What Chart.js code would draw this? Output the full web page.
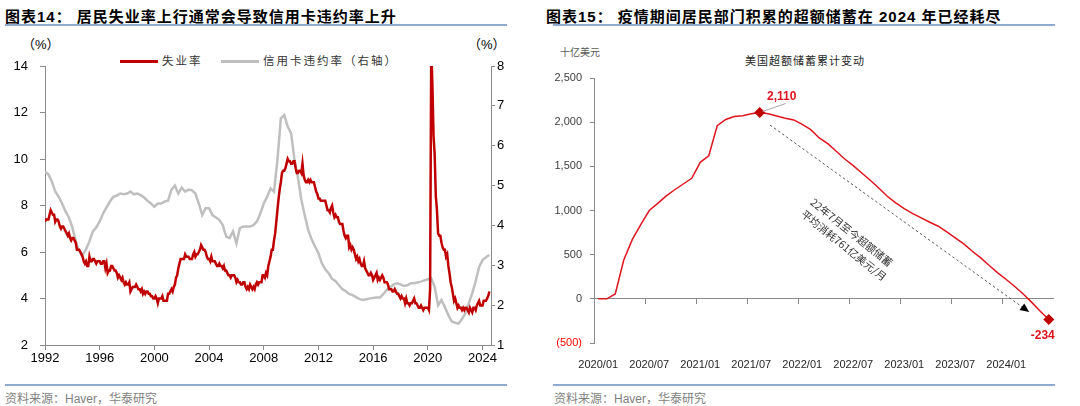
<!DOCTYPE html>
<html lang="zh">
<head>
<meta charset="UTF-8">
<title>失业率与超额储蓄</title>
<script src="https://cdn.jsdelivr.net/npm/chart.js"></script>
<style>
  body { margin: 0; width: 1080px; height: 406px; background: #fff; position: relative; overflow: hidden;
         font-family: "Liberation Sans", "Noto Sans CJK SC", sans-serif; color: #000; }
  .title { position: absolute; top: 5px; font-size: 15px; font-weight: bold; letter-spacing: 1px; white-space: nowrap; }
  .rule { position: absolute; height: 2px; background: #8FAAD0; }
  .src { position: absolute; top: 389px; font-size: 12px; color: #7f7f7f; white-space: nowrap; }
  .note { position: absolute; white-space: nowrap; }
  .box { position: absolute; top: 30px; width: 540px; height: 340px; }
  .legend { position: absolute; top: 52px; font-size: 11.5px; letter-spacing: 2px; color: #333; white-space: nowrap;
            font-family: "Noto Sans CJK SC", sans-serif; }
  .legend span.ln { display: inline-block; width: 38px; height: 3px; vertical-align: middle; margin-right: 4px; }
</style>
</head>
<body>
  <div class="title" style="left:5px">图表14： 居民失业率上行通常会导致信用卡违约率上升</div>
  <div class="rule" style="left:5px; width:502px; top:24px"></div>
  <div class="title" style="left:546px">图表15： 疫情期间居民部门积累的超额储蓄在 2024 年已经耗尽</div>
  <div class="rule" style="left:553px; width:502px; top:24px"></div>

  <div class="note" style="left:22px; top:34px; font-size:13px">（%）</div>
  <div class="note" style="left:468px; top:34px; font-size:13px">（%）</div>
  <div class="legend" style="left:120px">
    <span class="ln" style="background:#C00000"></span>失业率
    <span class="ln" style="background:#BFBFBF; margin-left:14px"></span>信用卡违约率（右轴）
  </div>

  <div class="note" style="left:560px; top:44px; font-size:10px; color:#595959; font-family:'Noto Sans CJK SC'">十亿美元</div>
  <div class="note" style="left:745px; top:52px; font-size:11px; color:#262626; letter-spacing:1px; font-family:'Noto Sans CJK SC'">美国超额储蓄累计变动</div>

  <div class="box" style="left:0"><canvas id="unempChart"></canvas></div>
  <div class="box" style="left:540px"><canvas id="savingsChart"></canvas></div>

  <div class="rule" style="left:5px; width:502px; top:384px; height:1.5px"></div>
  <div class="rule" style="left:553px; width:502px; top:384px; height:1.5px"></div>
  <div class="src" style="left:5px">资料来源：Haver，华泰研究</div>
  <div class="src" style="left:554px">资料来源：Haver，华泰研究</div>

<script>
// 失业率，月度，1992/01 起 (%)
const unempStart = 1992;
const unempRate = [
  7.3, 7.4, 7.4, 7.4, 7.6, 7.8, 7.7, 7.6, 7.6, 7.3, 7.4, 7.4,
  7.3, 7.1, 7.0, 7.1, 7.1, 7.0, 6.9, 6.8, 6.7, 6.8, 6.6, 6.5,
  6.6, 6.6, 6.5, 6.4, 6.1, 6.1, 6.1, 6.0, 5.9, 5.8, 5.6, 5.5,
  5.6, 5.4, 5.4, 5.8, 5.6, 5.6, 5.7, 5.7, 5.6, 5.5, 5.6, 5.6,
  5.6, 5.5, 5.5, 5.6, 5.6, 5.3, 5.5, 5.1, 5.2, 5.2, 5.4, 5.4,
  5.3, 5.2, 5.2, 5.1, 4.9, 5.0, 4.9, 4.8, 4.9, 4.7, 4.6, 4.7,
  4.6, 4.6, 4.7, 4.3, 4.4, 4.5, 4.5, 4.5, 4.6, 4.5, 4.4, 4.4,
  4.3, 4.4, 4.2, 4.3, 4.2, 4.3, 4.3, 4.2, 4.2, 4.1, 4.1, 4.0,
  4.0, 4.1, 4.0, 3.8, 4.0, 4.0, 4.0, 4.1, 3.9, 3.9, 3.9, 3.9,
  4.2, 4.2, 4.3, 4.4, 4.3, 4.5, 4.6, 4.9, 5.0, 5.3, 5.5, 5.7,
  5.7, 5.7, 5.7, 5.9, 5.8, 5.8, 5.8, 5.7, 5.7, 5.7, 5.9, 6.0,
  5.8, 5.9, 5.9, 6.0, 6.1, 6.3, 6.2, 6.1, 6.1, 6.0, 5.8, 5.7,
  5.7, 5.6, 5.8, 5.6, 5.6, 5.6, 5.5, 5.4, 5.4, 5.5, 5.4, 5.4,
  5.3, 5.4, 5.2, 5.2, 5.1, 5.0, 5.0, 4.9, 5.0, 5.0, 5.0, 4.9,
  4.7, 4.8, 4.7, 4.7, 4.6, 4.6, 4.7, 4.7, 4.5, 4.4, 4.5, 4.4,
  4.6, 4.5, 4.4, 4.5, 4.4, 4.6, 4.7, 4.6, 4.7, 4.7, 4.7, 5.0,
  5.0, 4.9, 5.1, 5.0, 5.4, 5.6, 5.8, 6.1, 6.1, 6.5, 6.8, 7.3,
  7.8, 8.3, 8.7, 9.0, 9.4, 9.5, 9.5, 9.6, 9.8, 10.0, 9.9, 9.9,
  9.8, 9.8, 9.9, 9.9, 9.6, 9.4, 9.4, 9.5, 9.5, 9.4, 9.8, 9.3,
  9.1, 9.0, 9.0, 9.1, 9.0, 9.1, 9.0, 9.0, 9.0, 8.8, 8.6, 8.5,
  8.3, 8.3, 8.2, 8.2, 8.2, 8.2, 8.2, 8.0, 7.8, 7.8, 7.7, 7.9,
  8.0, 7.7, 7.5, 7.6, 7.5, 7.5, 7.3, 7.2, 7.2, 7.2, 6.9, 6.7,
  6.6, 6.7, 6.7, 6.2, 6.3, 6.1, 6.2, 6.1, 5.9, 5.7, 5.8, 5.6,
  5.7, 5.5, 5.4, 5.4, 5.6, 5.3, 5.2, 5.1, 5.0, 5.0, 5.1, 5.0,
  4.8, 4.9, 5.0, 5.1, 4.8, 4.9, 4.8, 4.9, 5.0, 4.9, 4.7, 4.7,
  4.7, 4.6, 4.4, 4.4, 4.4, 4.3, 4.3, 4.4, 4.3, 4.2, 4.2, 4.1,
  4.0, 4.1, 4.0, 4.0, 3.8, 4.0, 3.8, 3.8, 3.7, 3.8, 3.8, 3.9,
  4.0, 3.8, 3.8, 3.7, 3.6, 3.6, 3.7, 3.6, 3.5, 3.6, 3.6, 3.6,
  3.6, 3.5, 4.4, 14.8, 13.2, 11.0, 10.2, 8.4, 7.8, 6.8, 6.7, 6.7,
  6.4, 6.2, 6.1, 6.1, 5.8, 5.9, 5.4, 5.1, 4.7, 4.5, 4.2, 3.9,
  4.0, 3.8, 3.6, 3.7, 3.6, 3.6, 3.5, 3.6, 3.5, 3.6, 3.6, 3.5,
  3.4, 3.6, 3.5, 3.4, 3.6, 3.6, 3.5, 3.7, 3.8, 3.9, 3.7, 3.7,
  3.7, 3.9, 3.9, 3.9, 4.0, 4.1, 4.3
];

// 信用卡违约率，季度，1992Q1 起 (%，右轴)
const cardStart = 1992;
const cardDelinq = [
  5.35, 5.28, 5.10, 4.85,  4.72, 4.55, 4.35, 4.20,  3.95, 3.60, 3.35, 3.26,
  3.40, 3.60, 3.85, 3.95,  4.10, 4.30, 4.45, 4.60,  4.72, 4.75, 4.80, 4.78,
  4.80, 4.85, 4.78, 4.80,  4.76, 4.70, 4.62, 4.55,  4.47, 4.55, 4.55, 4.60,
  4.62, 4.90, 5.00, 4.80,  4.95, 4.85, 4.90, 4.88,  4.80, 4.55, 4.26, 4.43,
  4.43, 4.26, 4.20, 4.14,  4.01, 3.72, 3.68, 3.85,  3.55, 3.93, 3.97, 3.97,
  3.97, 4.01, 4.10, 4.30,  4.55, 4.72, 4.93, 4.85,  5.64, 6.69, 6.77, 6.48,
  6.31, 5.64, 5.20, 4.64,  4.25, 3.89, 3.65, 3.47,  3.30, 3.05, 2.90, 2.80,
  2.66, 2.60, 2.50, 2.40,  2.35, 2.28, 2.25, 2.20,  2.15, 2.13, 2.15, 2.17,
  2.18, 2.19, 2.19, 2.28,  2.38, 2.45, 2.52, 2.55,  2.52, 2.48, 2.50, 2.55,
  2.55, 2.57, 2.59, 2.62,  2.65, 2.67, 2.46, 2.00,  2.13, 1.95, 1.75, 1.59,
  1.56, 1.54, 1.65, 1.80,  2.05, 2.30, 2.60, 2.96,  3.13, 3.20, 3.26
];

const yearTicks = [1992, 1996, 2000, 2004, 2008, 2012, 2016, 2020, 2024];

// 美国超额储蓄累计变动，十亿美元
const savingsMonths = [
  '2020/01','2020/02','2020/03','2020/04','2020/05','2020/06','2020/07','2020/08','2020/09','2020/10','2020/11','2020/12',
  '2021/01','2021/02','2021/03','2021/04','2021/05','2021/06','2021/07','2021/08','2021/09','2021/10','2021/11','2021/12',
  '2022/01','2022/02','2022/03','2022/04','2022/05','2022/06','2022/07','2022/08','2022/09','2022/10','2022/11','2022/12',
  '2023/01','2023/02','2023/03','2023/04','2023/05','2023/06','2023/07','2023/08','2023/09','2023/10','2023/11','2023/12',
  '2024/01','2024/02','2024/03','2024/04','2024/05','2024/06'
];
const excessSavings = [
  0, 0, 55, 440, 670, 840, 1000, 1080, 1165, 1235, 1300, 1365,
  1545, 1620, 1960, 2030, 2065, 2072, 2095, 2110, 2095, 2070, 2045, 2025,
  1975, 1915, 1821, 1757, 1670, 1583, 1508, 1425, 1342, 1255, 1161, 1086,
  1022, 965, 916, 867, 822, 758, 690, 622, 539, 464, 377, 294,
  219, 140, 55, -40, -140, -234
];
const trendNote = ['22年7月至今超额储蓄', '平均消耗761亿美元/月'];

Chart.defaults.font.family = "'Liberation Sans', 'Noto Sans CJK SC', sans-serif";
Chart.defaults.animation = false;

const axisGray = '#898989';

new Chart(document.getElementById('unempChart'), {
  type: 'line',
  data: {
    datasets: [{
      label: '失业率',
      data: unempRate.map((v, i) => ({x: unempStart + i / 12, y: v})),
      borderColor: '#C00000',
      borderWidth: 2.5,
      pointRadius: 0,
      yAxisID: 'y'
    }, {
      label: '信用卡违约率（右轴）',
      data: cardDelinq.map((v, i) => ({x: cardStart + i / 4, y: v})),
      borderColor: '#BFBFBF',
      borderWidth: 2.5,
      pointRadius: 0,
      yAxisID: 'y1'
    }]
  },
  options: {
    responsive: true,
    maintainAspectRatio: false,
    devicePixelRatio: 1,
    layout: { padding: { top: 36, left: 0, right: 0, bottom: 0 } },
    plugins: { legend: { display: false }, tooltip: { enabled: false } },
    scales: {
      x: {
        type: 'linear', min: 1992, max: 2024.62,
        afterBuildTicks: s => { s.ticks = yearTicks.map(v => ({value: v})); },
        afterFit: s => { s.height = 25; },
        border: { color: axisGray },
        grid: { drawOnChartArea: false, tickLength: 5, color: axisGray },
        ticks: { color: '#000', font: { size: 13 }, padding: 1, maxRotation: 0, callback: v => String(v) }
      },
      y: {
        position: 'left', min: 2, max: 14,
        afterFit: s => { s.width = 45; },
        border: { color: axisGray },
        grid: { drawOnChartArea: false, tickLength: 5, color: axisGray },
        ticks: { stepSize: 2, color: '#000', font: { size: 13 }, padding: 12 }
      },
      y1: {
        position: 'right', min: 1, max: 8,
        afterFit: s => { s.width = 49; },
        border: { color: axisGray },
        grid: { drawOnChartArea: false, tickLength: 4, color: axisGray },
        ticks: { stepSize: 1, color: '#000', font: { size: 13 }, padding: 2 }
      }
    }
  }
});

const savingsNotes = {
  id: 'savingsNotes',
  afterDatasetsDraw(chart) {
    const {ctx, scales: {x, y}} = chart;
    const peak = excessSavings.indexOf(Math.max(...excessSavings));
    const last = excessSavings.length - 1;
    const fmt = v => v.toLocaleString('en-US');
    ctx.save();

    // 峰值标注
    const px = x.getPixelForValue(peak), py = y.getPixelForValue(excessSavings[peak]);
    ctx.strokeStyle = '#A6A6A6';
    ctx.lineWidth = 1;
    ctx.beginPath();
    ctx.moveTo(px + 3, py - 1);
    ctx.lineTo(px + 26, py - 9);
    ctx.stroke();
    ctx.fillStyle = '#E0141E';
    ctx.font = "bold 12px 'Liberation Sans'";
    ctx.textAlign = 'center';
    ctx.textBaseline = 'middle';
    ctx.fillText(fmt(excessSavings[peak]), px + 22, py - 16);

    // 末值标注
    const lx = x.getPixelForValue(last), ly = y.getPixelForValue(excessSavings[last]);
    ctx.fillText(String(excessSavings[last]), lx - 6, ly + 16);

    // 虚线箭头
    const x0 = x.getPixelForValue(20.2), y0 = y.getPixelForValue(1968);
    const x1 = x.getPixelForValue(50.7), y1 = y.getPixelForValue(-150);
    const ang = Math.atan2(y1 - y0, x1 - x0);
    ctx.strokeStyle = '#595959';
    ctx.setLineDash([2.5, 2.5]);
    ctx.beginPath();
    ctx.moveTo(x0, y0);
    ctx.lineTo(x1 - 6 * Math.cos(ang), y1 - 6 * Math.sin(ang));
    ctx.stroke();
    ctx.setLineDash([]);
    ctx.fillStyle = '#000';
    ctx.beginPath();
    ctx.moveTo(x1, y1);
    ctx.lineTo(x1 - 9 * Math.cos(ang) + 4 * Math.sin(ang), y1 - 9 * Math.sin(ang) - 4 * Math.cos(ang));
    ctx.lineTo(x1 - 9 * Math.cos(ang) - 4 * Math.sin(ang), y1 - 9 * Math.sin(ang) + 4 * Math.cos(ang));
    ctx.closePath();
    ctx.fill();

    // 斜排说明文字
    const tx = x.getPixelForValue(29.3), ty = y.getPixelForValue(690);
    ctx.translate(tx, ty);
    ctx.rotate(ang + 0.05);
    ctx.fillStyle = '#333';
    ctx.font = "10.5px 'Noto Sans CJK SC'";
    ctx.fillText(trendNote[0], 0, -7);
    ctx.fillText(trendNote[1], 2, 8);
    ctx.restore();
  }
};

new Chart(document.getElementById('savingsChart'), {
  type: 'line',
  data: {
    labels: savingsMonths,
    datasets: [{
      label: '美国超额储蓄累计变动',
      data: excessSavings,
      borderColor: '#E0141E',
      borderWidth: 1.5,
      pointStyle: 'rectRot',
      pointRadius: ctx => (ctx.dataIndex === 19 || ctx.dataIndex === excessSavings.length - 1) ? 4.5 : 0,
      pointBackgroundColor: '#C00000',
      pointBorderColor: '#C00000',
      xAxisID: 'x',
      yAxisID: 'y'
    }]
  },
  options: {
    responsive: true,
    maintainAspectRatio: false,
    devicePixelRatio: 1,
    layout: { padding: { top: 48, left: 0, right: 27, bottom: 0 } },
    plugins: { legend: { display: false }, tooltip: { enabled: false } },
    scales: {
      x: {
        type: 'category', position: { y: 0 }, offset: true,
        border: { color: axisGray },
        grid: {
          offset: true, drawOnChartArea: false, tickLength: 5,
          tickColor: ctx => ctx.index % 6 === 0 ? axisGray : 'rgba(0,0,0,0)'
        },
        ticks: { display: false }
      },
      x2: {
        type: 'category', position: 'bottom', offset: true,
        afterFit: s => { s.height = 27; },
        border: { display: false },
        grid: { display: false },
        ticks: {
          autoSkip: false, maxRotation: 0, padding: 7, color: '#262626', font: { size: 11 },
          callback: (v, i) => i % 6 === 0 ? savingsMonths[i] : ''
        }
      },
      y: {
        position: 'left', min: -500, max: 2500,
        afterFit: s => { s.width = 54; },
        border: { color: axisGray },
        grid: { drawOnChartArea: false, tickLength: 4, color: axisGray },
        ticks: {
          stepSize: 500, padding: 8, font: { size: 11 },
          color: ctx => ctx.tick && ctx.tick.value < 0 ? '#FF0000' : '#404040',
          callback: v => v < 0 ? '(' + (-v).toLocaleString('en-US') + ')' : v.toLocaleString('en-US')
        }
      }
    }
  },
  plugins: [savingsNotes]
});
</script>
</body>
</html>
